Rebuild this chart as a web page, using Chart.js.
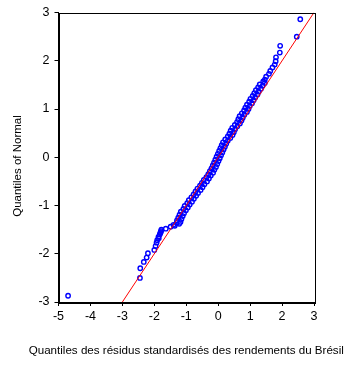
<!DOCTYPE html>
<html>
<head>
<meta charset="utf-8">
<script src="https://cdn.jsdelivr.net/npm/chart.js@4/dist/chart.umd.min.js"></script>
<style>
  html, body { margin: 0; padding: 0; background: #fff; }
  #qq { display: block; }
</style>
</head>
<body>
<canvas id="qq" width="350" height="365"></canvas>
<script>
// Q-Q plot: standardised residuals (x) vs quantiles of the normal (y)
const residQuantiles = [
  -4.70, -2.45, -2.44, -2.33, -2.24, -2.20, -2.00, -1.96, -1.93, -1.91,
  -1.87, -1.86, -1.83, -1.81, -1.80, -1.79, -1.78, -1.64, -1.49,
  -1.36, -1.40, -1.22, -1.30, -1.18, -1.29, -1.15, -1.25, -1.11, -1.21,
  -1.07, -1.17, -1.01, -1.09, -0.95, -1.05, -0.89, -0.97, -0.82, -0.92,
  -0.76, -0.84, -0.69, -0.77, -0.63, -0.71, -0.55, -0.65, -0.49, -0.57,
  -0.43, -0.51, -0.35, -0.45, -0.29, -0.37, -0.23, -0.31, -0.16, -0.26,
  -0.12, -0.21, -0.07, -0.17, -0.03, -0.13, 0.01, -0.09, 0.05, -0.05,
  0.09, -0.01, 0.13, 0.03, 0.17, 0.07, 0.21, 0.11, 0.25, 0.15,
  0.30, 0.22, 0.38, 0.30, 0.45, 0.35, 0.49, 0.39, 0.53, 0.44,
  0.60, 0.52, 0.68, 0.59, 0.73, 0.63, 0.77, 0.67, 0.82, 0.74,
  0.90, 0.81, 0.95, 0.85, 0.99, 0.90, 1.06, 0.97, 1.11, 1.01,
  1.16, 1.08, 1.23, 1.13, 1.27, 1.18, 1.34, 1.25, 1.39, 1.30,
  1.46, 1.41,
  1.46, 1.50, 1.59, 1.63, 1.70, 1.77, 1.80, 1.81, 1.93, 1.94, 2.46, 2.57
];
const normalQuantiles = [
  -2.87, -2.50, -2.30, -2.17, -2.08, -1.99, -1.92, -1.84, -1.77, -1.72,
  -1.65, -1.68, -1.60, -1.57, -1.55, -1.53, -1.50, -1.48, -1.44,
  -1.42, -1.40, -1.38, -1.36, -1.34, -1.31, -1.28, -1.25, -1.22, -1.19,
  -1.16, -1.13, -1.10, -1.07, -1.04, -1.01, -0.98, -0.95, -0.92, -0.89,
  -0.86, -0.83, -0.80, -0.77, -0.74, -0.71, -0.68, -0.65, -0.62, -0.59,
  -0.56, -0.53, -0.50, -0.47, -0.44, -0.41, -0.38, -0.35, -0.32, -0.29,
  -0.26, -0.23, -0.20, -0.17, -0.14, -0.11, -0.08, -0.05, -0.02, 0.01,
  0.04, 0.07, 0.10, 0.13, 0.16, 0.19, 0.22, 0.25, 0.28, 0.31,
  0.34, 0.37, 0.40, 0.43, 0.46, 0.49, 0.52, 0.55, 0.58, 0.61,
  0.64, 0.67, 0.70, 0.73, 0.76, 0.79, 0.82, 0.85, 0.88, 0.91,
  0.94, 0.97, 1.00, 1.03, 1.06, 1.09, 1.12, 1.15, 1.18, 1.21,
  1.24, 1.27, 1.30, 1.33, 1.36, 1.39, 1.42, 1.45, 1.48, 1.51,
  1.54, 1.57,
  1.61, 1.67, 1.73, 1.79, 1.86, 1.92, 1.99, 2.07, 2.17, 2.31, 2.50, 2.86
];
// reference line y = x
const refLineX = [-3, 3];
const refLineY = [-3, 3];

const xTicks = [-5, -4, -3, -2, -1, 0, 1, 2, 3];
const yTicks = [-3, -2, -1, 0, 1, 2, 3];

const xTitle = 'Quantiles des résidus standardisés des rendements du Brésil';
const yTitle = 'Quantiles of Normal';

const FONT = '"Liberation Sans", Arial, sans-serif';

// closed box + both axis titles (the built-in title squeezes text to the plot width)
const frameAndTitles = {
  id: 'frameAndTitles',
  afterDraw(chart) {
    const { ctx, chartArea: a } = chart;
    ctx.save();
    ctx.strokeStyle = '#000';
    ctx.lineWidth = 1;
    ctx.strokeRect(Math.round(a.left) + 0.5, Math.round(a.top) + 0.5,
      Math.round(a.right - a.left), Math.round(a.bottom - a.top));

    ctx.fillStyle = '#000';
    ctx.textAlign = 'center';
    ctx.textBaseline = 'middle';
    ctx.font = '11.6px ' + FONT;
    ctx.fillText(xTitle, (a.left + a.right) / 2, 351);

    ctx.translate(18, 166);
    ctx.rotate(-Math.PI / 2);
    ctx.font = '11.5px ' + FONT;
    ctx.fillText(yTitle, 0, 0);
    ctx.restore();
  }
};

const points = residQuantiles.map((x, i) => ({ x, y: normalQuantiles[i] }));
const line = refLineX.map((x, i) => ({ x, y: refLineY[i] }));

new Chart(document.getElementById('qq'), {
  type: 'scatter',
  data: {
    datasets: [
      {
        data: line,
        showLine: true,
        borderColor: '#ff0000',
        borderWidth: 1,
        pointRadius: 0,
        order: 0,
      },
      {
        data: points,
        pointStyle: 'circle',
        pointRadius: 2.2,
        borderWidth: 1.4,
        borderColor: '#0000ff',
        backgroundColor: 'rgba(255,255,255,0)',
        order: 1,
      },
    ],
  },
  options: {
    responsive: false,
    animation: false,
    layout: { padding: { top: 8, right: 36, left: 0, bottom: 0 } },
    plugins: { legend: { display: false }, tooltip: { enabled: false } },
    scales: {
      x: {
        type: 'linear',
        min: -5,
        max: 3,
        afterBuildTicks: s => { s.ticks = xTicks.map(v => ({ value: v })); },
        afterFit: s => { s.height = 63; },
        ticks: { color: '#000', font: { family: FONT, size: 12.5 }, padding: 3 },
        grid: { drawOnChartArea: false, drawTicks: true, tickLength: 4, color: '#000' },
        border: { color: '#000', width: 1 },
      },
      y: {
        type: 'linear',
        min: -3,
        max: 3,
        afterBuildTicks: s => { s.ticks = yTicks.map(v => ({ value: v })); },
        afterFit: s => { s.width = 58.5; },
        ticks: { color: '#000', font: { family: FONT, size: 12.5 }, padding: 5 },
        grid: { drawOnChartArea: false, drawTicks: true, tickLength: 4, color: '#000' },
        border: { color: '#000', width: 1 },
      },
    },
  },
  plugins: [frameAndTitles],
});
</script>
</body>
</html>
